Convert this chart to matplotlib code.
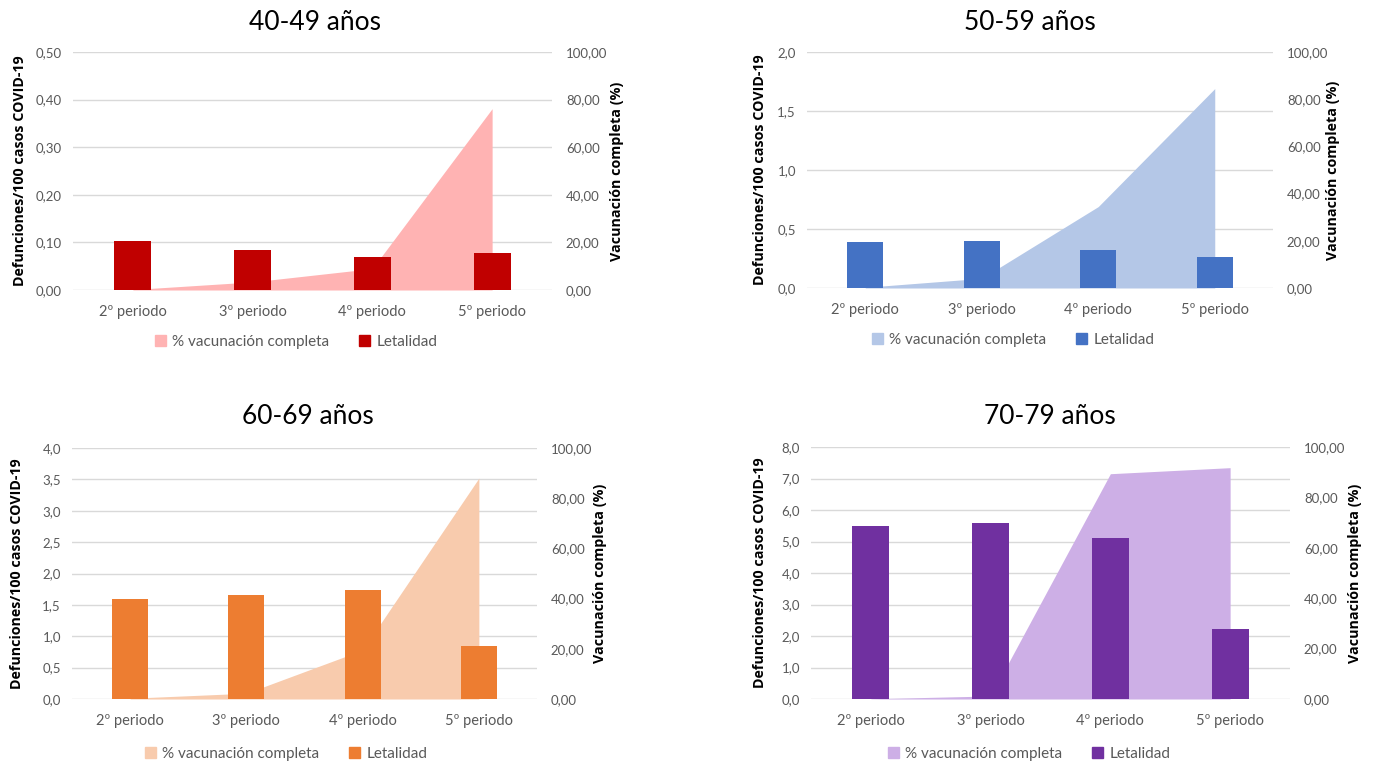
import matplotlib.pyplot as plt
from matplotlib.lines import Line2D
from matplotlib.patches import Patch
from matplotlib.ticker import FuncFormatter

periodos = ["2º periodo", "3º periodo", "4º periodo", "5º periodo"]

titulos = ["40-49 años", "50-59 años", "60-69 años", "70-79 años"]

# letalidad (defunciones por 100 casos)
let_40 = [0.102, 0.085, 0.070, 0.077]
let_50 = [0.39, 0.40, 0.318, 0.259]
let_60 = [1.60, 1.654, 1.734, 0.851]
let_70 = [5.49, 5.60, 5.10, 2.22]

# % vacunación completa
vac_40 = [0.2, 3.4, 9.0, 76.2]
vac_50 = [0.3, 4.1, 34.5, 84.5]
vac_60 = [0.3, 2.3, 19.5, 88.0]
vac_70 = [0.1, 1.2, 89.4, 91.8]

ymax_izq = [0.5, 2.0, 4.0, 8.0]
paso_izq = [0.1, 0.5, 0.5, 1.0]
dec_izq = [2, 1, 1, 1]

col_barra = ["#C00000", "#4472C4", "#ED7D31", "#7030A0"]
col_area = ["#FFB3B3", "#B4C7E7", "#F8CBAD", "#CDAFE6"]

W, H = 1373, 765
# rectangulos de los ejes en pixeles: x0, x1, y_top, y_bottom
rects = [(73, 552, 52, 290), (807, 1273, 52, 288),
         (72, 537, 448, 699), (811, 1290, 447, 699)]
titulo_pos = [(315, 23), (1030, 22), (308, 417), (1050, 417)]
leyenda_pos = [(296, 342), (1013, 340), (286, 754), (1029, 754)]
# centro horizontal (px) de los titulos de eje izquierdo / derecho
etiq_izq = [19, 759, 16, 759]
etiq_der = [618, 1334, 601, 1356]

GRIS = "#595959"
FT = "Lato"
FB = "Open Sans"

fig = plt.figure(figsize=(W / 100, H / 100), dpi=100)
fig.patch.set_facecolor("white")

datos = [(let_40, vac_40), (let_50, vac_50), (let_60, vac_60), (let_70, vac_70)]

for i, (let, vac) in enumerate(datos):
    x0, x1, yt, yb = rects[i]
    ax2 = fig.add_axes([x0 / W, 1 - yb / H, (x1 - x0) / W, (yb - yt) / H])
    ax = ax2.twinx()
    ax.yaxis.tick_left()
    ax.yaxis.set_label_position("left")
    ax2.yaxis.tick_right()
    ax2.yaxis.set_label_position("right")
    ax.set_zorder(ax2.get_zorder() + 1)
    ax.patch.set_visible(False)

    xs = list(range(len(periodos)))

    # area de vacunacion (eje derecho)
    ax2.fill_between(xs, 0, vac, color=col_area[i], linewidth=0, zorder=2)
    ax2.set_ylim(0, 100)
    ax2.set_yticks([0, 20, 40, 60, 80, 100])
    ax2.yaxis.set_major_formatter(FuncFormatter(lambda v, p: f"{v:.2f}".replace(".", ",")))

    # barras de letalidad (eje izquierdo)
    ax.bar(xs, let, width=0.31, color=col_barra[i], zorder=3)
    ax.set_ylim(0, ymax_izq[i])
    n = int(round(ymax_izq[i] / paso_izq[i]))
    ticks = [k * paso_izq[i] for k in range(n + 1)]
    ax.set_yticks(ticks)
    d = dec_izq[i]
    ax.yaxis.set_major_formatter(FuncFormatter(lambda v, p, d=d: f"{v:.{d}f}".replace(".", ",")))

    # lineas de cuadricula detras del area
    for t in ticks:
        ax2.add_line(Line2D([0, 1], [t, t], transform=ax.get_yaxis_transform(),
                            color="#D9D9D9", lw=1, zorder=1))

    ax2.set_xlim(-0.5, 3.5)
    ax2.set_xticks(xs)
    ax2.set_xticklabels(periodos)
    for a in (ax, ax2):
        for s in a.spines.values():
            s.set_visible(False)
        a.tick_params(length=0, colors=GRIS, labelsize=9.5)
        for lb in a.get_yticklabels() + a.get_xticklabels():
            lb.set_fontfamily(FT)
    ax.tick_params(axis="y", pad=8)
    ax2.tick_params(axis="y", pad=10)
    ax2.tick_params(axis="x", pad=11, labelsize=10.5)
    ax.tick_params(axis="x", labelbottom=False)

    ax.set_ylabel("Defunciones/100 casos COVID-19", fontfamily=FB, fontweight="bold",
                  fontsize=10.3, color="black")
    ax2.set_ylabel("Vacunación completa (%)", fontfamily=FB, fontweight="bold",
                   fontsize=10.3, color="black")
    ancho = x1 - x0
    ax.yaxis.set_label_coords((etiq_izq[i] + 8 - x0) / ancho, 0.5)
    ax2.yaxis.set_label_coords((etiq_der[i] - 8 - x0) / ancho, 0.5)

    tx, ty = titulo_pos[i]
    fig.text(tx / W, 1 - ty / H, titulos[i], fontfamily=FT, fontsize=19,
             ha="center", va="center", color="black")

    lx, ly = leyenda_pos[i]
    handles = [Patch(color=col_area[i], label="% vacunación completa"),
               Patch(color=col_barra[i], label="Letalidad")]
    fig.legend(handles=handles, loc="center", bbox_to_anchor=(lx / W, 1 - ly / H),
               ncol=2, frameon=False, handlelength=0.7, handleheight=0.7,
               handletextpad=0.4, columnspacing=2.0,
               prop={"family": FT, "size": 11}, labelcolor=GRIS)

fig.savefig("out.png", dpi=100)
